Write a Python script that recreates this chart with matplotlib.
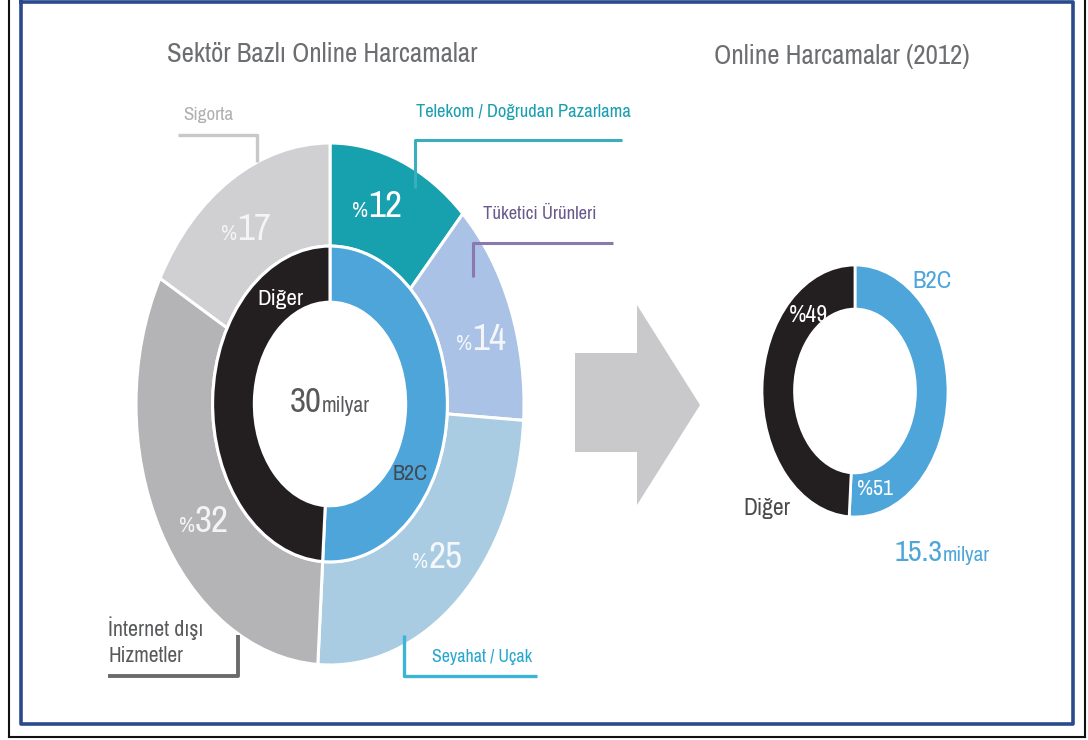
import matplotlib
matplotlib.use("Agg")
import matplotlib.pyplot as plt
from matplotlib.patches import Polygon
from matplotlib import font_manager

# ---------------- data ----------------
sector_labels = ["Telekom / Doğrudan Pazarlama", "Tüketici Ürünleri", "Seyahat / Uçak",
                 "İnternet dışı Hizmetler", "Sigorta"]
sector_values = [12, 14, 25, 32, 17]
group_labels = ["B2C", "Diğer"]
group_values = [51, 49]
total_sector = "30"
total_2012 = "15.3"
unit = "milyar"
title_left = "Sektör Bazlı Online Harcamalar"
title_right = "Online Harcamalar (2012)"

sector_colors = ["#17a1ae", "#a9c2e5", "#a9cce3", "#b4b4b7", "#d0d0d2"]
group_colors = ["#4da5da", "#231f20"]

avail = {f.name for f in font_manager.fontManager.ttflist}
fams = [f for f in ["Archivo Narrow", "Asap Condensed", "Liberation Sans Narrow"] if f in avail]
plt.rcParams["font.family"] = fams[:1] + ["DejaVu Sans"]

W, H = 1088, 740
fig = plt.figure(figsize=(W / 100, H / 100), dpi=100)
fig.patch.set_facecolor("white")
renderer = fig.canvas.get_renderer()


def px_axes(cx, cy, rx, ry):
    return fig.add_axes([(cx - rx) / W, (H - cy - ry) / H, 2 * rx / W, 2 * ry / H])


# ---------------- left donut ----------------
axL = px_axes(330, 404, 194, 261)
axL.pie(sector_values, colors=sector_colors, startangle=90, counterclock=False, radius=1.0,
        wedgeprops=dict(width=0.395, edgecolor="white", linewidth=2.2))
axL.pie(group_values, colors=group_colors, startangle=90, counterclock=False, radius=0.605,
        wedgeprops=dict(width=0.215, edgecolor="white", linewidth=2.2))
axL.set_aspect("auto")
axL.set_xlim(-1, 1)
axL.set_ylim(-1, 1)
axL.axis("off")

# ---------------- right donut ----------------
axR = px_axes(855, 391, 93, 126)
axR.pie(group_values, colors=group_colors, startangle=90, counterclock=False, radius=1.0,
        wedgeprops=dict(width=0.35, edgecolor="white", linewidth=2))
axR.set_aspect("auto")
axR.set_xlim(-1, 1)
axR.set_ylim(-1, 1)
axR.axis("off")

# ---------------- overlay (pixel coordinates) ----------------
ov = fig.add_axes([0, 0, 1, 1], zorder=5)
ov.set_xlim(0, W)
ov.set_ylim(H, 0)
ov.axis("off")
ov.patch.set_alpha(0)


def fit(x, y, s, width, ha="left", size=20, **kw):
    """Place text and scale its font so that it is `width` pixels wide."""
    t = ov.text(x, y, s, ha=ha, va="baseline", fontsize=size, **kw)
    w = t.get_window_extent(renderer=renderer).width
    if w > 0:
        t.set_fontsize(size * width / w)
    return t


# frame
ov.plot([8.5, 8.5], [0, 737], color="#111111", lw=1.5)
ov.plot([1085, 1085], [0, 737], color="#111111", lw=1.5)
ov.plot([8.5, 1085], [737, 737], color="#111111", lw=1.5)
ov.plot([21, 21, 1073, 1073, 21], [2, 724, 724, 2, 2], color="#2a4a8e", lw=2.6)

# arrow
ov.add_patch(Polygon([[575, 353], [637, 353], [637, 305], [700, 405], [637, 505],
                      [637, 452], [575, 452]], closed=True, facecolor="#c9c9cc",
                     edgecolor="none"))

# titles
fit(322, 62, title_left, 309, ha="center", color="#6d6e71")
fit(842, 64, title_right, 256, ha="center", color="#6d6e71")

# leader lines
ov.plot([178, 257, 257], [135, 135, 162], color="#c8c8c8", lw=2.4, solid_capstyle="butt")
ov.plot([622, 415, 415], [140, 140, 188], color="#3aaebd", lw=2.2, solid_capstyle="butt")
ov.plot([613, 473, 473], [243, 243, 277], color="#8a78ae", lw=2.2, solid_capstyle="butt")
ov.plot([108, 238, 238], [676, 676, 635], color="#6b6b6b", lw=2.8, solid_capstyle="butt")
ov.plot([404, 404, 537], [635, 676, 676], color="#3cb4d6", lw=2.4, solid_capstyle="butt")

# category labels
fit(183, 120, sector_labels[4], 50, color="#b0b0b2")
fit(416, 117, sector_labels[0], 214, color="#1a9fb0")
fit(483, 219, sector_labels[1], 113, color="#6a5a8c")
net1, net2 = "İnternet dışı", "Hizmetler"
fit(108, 636, net1, 95, color="#58595b")
fit(108, 662, net2, 75, color="#58595b")
fit(432, 662, sector_labels[2], 100, color="#27a7cf")

# percentage labels in the outer ring
ref = fit(0, -100, "25", 34)
big = ref.get_fontsize()
ref.remove()
ref = fit(0, -100, "%", 16)
small = ref.get_fontsize()
ref.remove()


def pct(x, y, value, color="white"):
    ov.text(x, y, "%", ha="right", va="baseline", fontsize=small, color=color)
    ov.text(x, y, str(value), ha="left", va="baseline", fontsize=big, color=color)


pct(368, 217, sector_values[0])
pct(237, 240, sector_values[4], color="#f4f4f4")
pct(472, 350, sector_values[1], color="#f4f6fb")
pct(195, 532, sector_values[3], color="#f4f4f4")
pct(428, 568, sector_values[2], color="#f4f8fb")

fit(280, 305, group_labels[1], 46, ha="center", fontweight="bold", color="white")
fit(410, 480, group_labels[0], 35, ha="center", color="#3f4a55")

fit(322, 412, total_sector, 32, ha="right", color="#58595b")
fit(322, 412, unit, 48, ha="left", color="#58595b")

# right donut labels
fit(932, 288, group_labels[0], 39, ha="center", color="#4da5da")
fit(808, 322, "%" + str(group_values[1]), 39, ha="center", color="white")
fit(875, 495, "%" + str(group_values[0]), 36, ha="center", color="white")
fit(767, 515, group_labels[1], 47, ha="center", color="#4a4a4c")
fit(943, 561, total_2012, 48, ha="right", color="#4da5da")
fit(943, 561, unit, 47, ha="left", color="#4da5da")

fig.savefig("out.png", dpi=100, facecolor="white")
